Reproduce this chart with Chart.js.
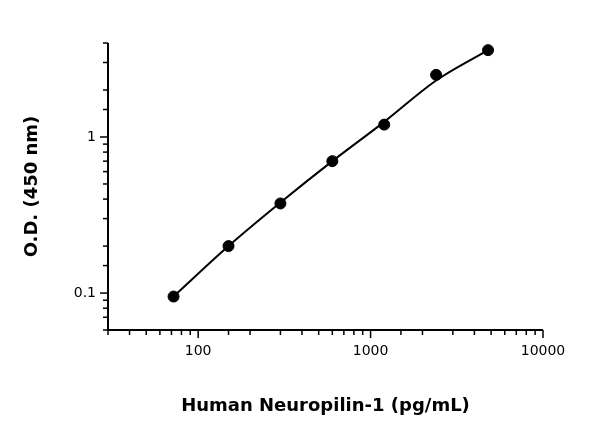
<!DOCTYPE html>
<html><head><meta charset="utf-8">
<script src="https://cdn.jsdelivr.net/npm/chart.js@4.4.0/dist/chart.umd.min.js"></script>
<style>body{margin:0;background:#fff}</style>
</head><body>
<canvas id="c" width="600" height="421"></canvas>
<script>
var concX = [72, 150, 300, 600, 1200, 2400, 4800];
var odY = [0.095, 0.2, 0.375, 0.7, 1.2, 2.5, 3.6];
var fitY = [0.095, 0.2, 0.38, 0.7, 1.25, 2.3, 3.6];
var xMajor = [100, 1000, 10000];
var yMajor = [0.1, 1];

var FONT = "DejaVu Sans";

var tickPlugin = {
  id: "ticks",
  afterDraw: function(ch) {
    var c = ch.ctx, xs = ch.scales.x, ys = ch.scales.y, a = ch.chartArea;
    c.save();
    c.strokeStyle = "#000";
    c.lineWidth = 2;
    c.beginPath();
    c.moveTo(a.left, a.top); c.lineTo(a.left, a.bottom);
    c.moveTo(a.left, a.bottom); c.lineTo(a.right, a.bottom);
    c.stroke();
    c.fillStyle = "#000";
    c.font = "14px " + FONT;
    c.lineWidth = 1.5;
    xs.ticks.forEach(function(t) {
      var px = xs.getPixelForValue(t.value);
      var maj = xMajor.indexOf(t.value) >= 0;
      c.beginPath(); c.moveTo(px, a.bottom); c.lineTo(px, a.bottom + (maj ? 8 : 5)); c.stroke();
      if (maj) { c.textAlign = "center"; c.textBaseline = "top"; c.fillText(String(t.value), px, a.bottom + 14); }
    });
    ys.ticks.forEach(function(t) {
      var py = ys.getPixelForValue(t.value);
      var maj = yMajor.some(function(v) { return Math.abs(v - t.value) < 1e-9; });
      c.beginPath(); c.moveTo(a.left, py); c.lineTo(a.left - (maj ? 8 : 5), py); c.stroke();
      if (maj) { c.textAlign = "right"; c.textBaseline = "middle"; c.fillText(String(t.value), a.left - 12, py); }
    });
    c.restore();
  }
};

new Chart(document.getElementById("c"), {
  type: "scatter",
  data: {
    datasets: [{
      data: concX.map(function(x, i) { return { x: x, y: fitY[i] }; }),
      showLine: true, borderColor: "#000", borderWidth: 2, pointRadius: 0,
      cubicInterpolationMode: "monotone"
    }, {
      data: concX.map(function(x, i) { return { x: x, y: odY[i] }; }),
      backgroundColor: "#000", borderColor: "#000", pointRadius: 5.5
    }]
  },
  options: {
    responsive: false, animation: false,
    layout: { padding: { top: 43, right: 57 } },
    plugins: { legend: { display: false }, tooltip: { enabled: false } },
    scales: {
      x: {
        type: "logarithmic", min: 30, max: 10000,
        grid: { display: false }, border: { display: false },
        ticks: { display: false, autoSkip: false },
        title: { display: true, text: "Human Neuropilin-1 (pg/mL)", color: "#000",
          font: { family: FONT, size: 18, weight: "bold" }, padding: { top: 34 } },
        afterFit: function(s) { s.height = 91; }
      },
      y: {
        type: "logarithmic", min: 0.058, max: 4,
        grid: { display: false }, border: { display: false },
        ticks: { display: false, autoSkip: false },
        title: { display: true, text: "O.D. (450 nm)", color: "#000",
          font: { family: FONT, size: 18, weight: "bold" }, padding: { top: 22, bottom: 44 } },
        afterFit: function(s) { s.width = 108; }
      }
    }
  },
  plugins: [tickPlugin]
});
</script>
</body></html>
